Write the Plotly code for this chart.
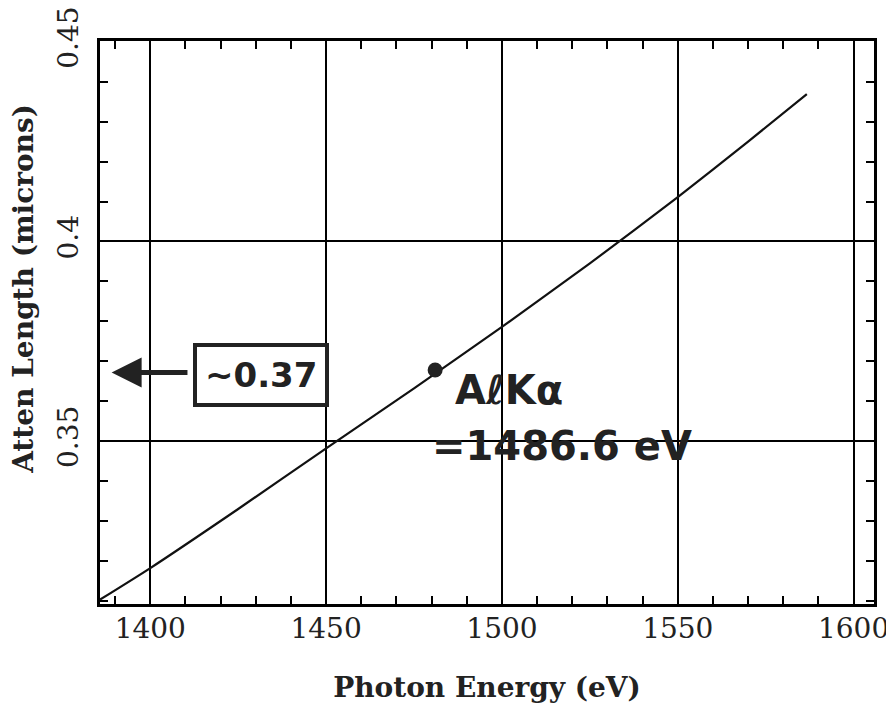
import plotly.graph_objects as go

# Data
energy_ev = [1385.7, 1400, 1425, 1450, 1475, 1500, 1525, 1550, 1570, 1586.7]
atten_um = [0.3103, 0.3182, 0.3330, 0.3482, 0.3632, 0.3786, 0.3945, 0.4111, 0.4250, 0.4369]

alka_ev = [1481]
alka_um = [0.3678]

x_ticks = [1400, 1450, 1500, 1550, 1600]
y_ticks = [0.35, 0.4, 0.45]

FONT = "DejaVu Serif"
HAND = "DejaVu Sans"
INK = "#222222"

fig = go.Figure()
fig.add_trace(go.Scatter(x=energy_ev, y=atten_um, mode="lines",
                         line=dict(color="#111111", width=2.2, shape="spline", smoothing=0.6),
                         showlegend=False))
fig.add_trace(go.Scatter(x=alka_ev, y=alka_um, mode="markers",
                         marker=dict(color=INK, size=15), showlegend=False))

fig.add_annotation(x=1486, y=0.3628, xref="x", yref="y", text="<b>AℓKα</b>",
                   showarrow=False, xanchor="left", yanchor="middle",
                   font=dict(family=HAND, size=40, color=INK))
fig.add_annotation(x=1479.5, y=0.3488, xref="x", yref="y", text="<b>=1486.6 eV</b>",
                   showarrow=False, xanchor="left", yanchor="middle",
                   font=dict(family=HAND, size=40, color=INK))
fig.add_annotation(x=1431.5, y=0.3665, xref="x", yref="y", text="<b>~0.37</b>",
                   showarrow=False, xanchor="center", yanchor="middle",
                   bordercolor=INK, borderwidth=4, borderpad=8,
                   font=dict(family=HAND, size=34, color=INK))
fig.add_annotation(x=1389, y=0.3672, xref="x", yref="y", ax=1411, ay=0.3672,
                   axref="x", ayref="y", text="", showarrow=True,
                   arrowhead=2, arrowsize=1.2, arrowwidth=5, arrowcolor=INK)

# y-axis title (placed above the plot centre as in the original)
fig.add_annotation(x=-0.098, y=0.56, xref="paper", yref="paper",
                   text="<b>Atten Length (microns)</b>", textangle=-90,
                   showarrow=False, xanchor="center", yanchor="middle",
                   font=dict(family=FONT, size=28, color=INK))

axis_common = dict(
    showline=True, linecolor="black", linewidth=2.5, mirror="allticks",
    showgrid=True, gridcolor="black", gridwidth=2,
    ticks="inside", ticklen=8, tickwidth=2, tickcolor="black",
    zeroline=False, automargin=False, ticklabeloverflow="allow",
    tickfont=dict(family=FONT, size=28, color=INK),
)

fig.update_layout(
    width=894, height=715,
    margin=dict(l=92, r=28, t=33, b=119),
    paper_bgcolor="white", plot_bgcolor="white",
    xaxis=dict(range=[1385.7, 1605.8], tickvals=x_ticks, ticklabelstandoff=-2,
               minor=dict(dtick=10, tick0=1400, ticks="inside", ticklen=8,
                          tickwidth=2, tickcolor="black", showgrid=False),
               title=dict(text="<b>Photon Energy (eV)</b>", standoff=34,
                          font=dict(family=FONT, size=28, color=INK)),
               **axis_common),
    yaxis=dict(range=[0.3092, 0.4502], tickvals=y_ticks, tickangle=-90,
               ticklabelstandoff=8,
               minor=dict(dtick=0.01, tick0=0.35, ticks="inside", ticklen=8,
                          tickwidth=2, tickcolor="black", showgrid=False),
               **axis_common),
)

fig.write_html("out.html")
